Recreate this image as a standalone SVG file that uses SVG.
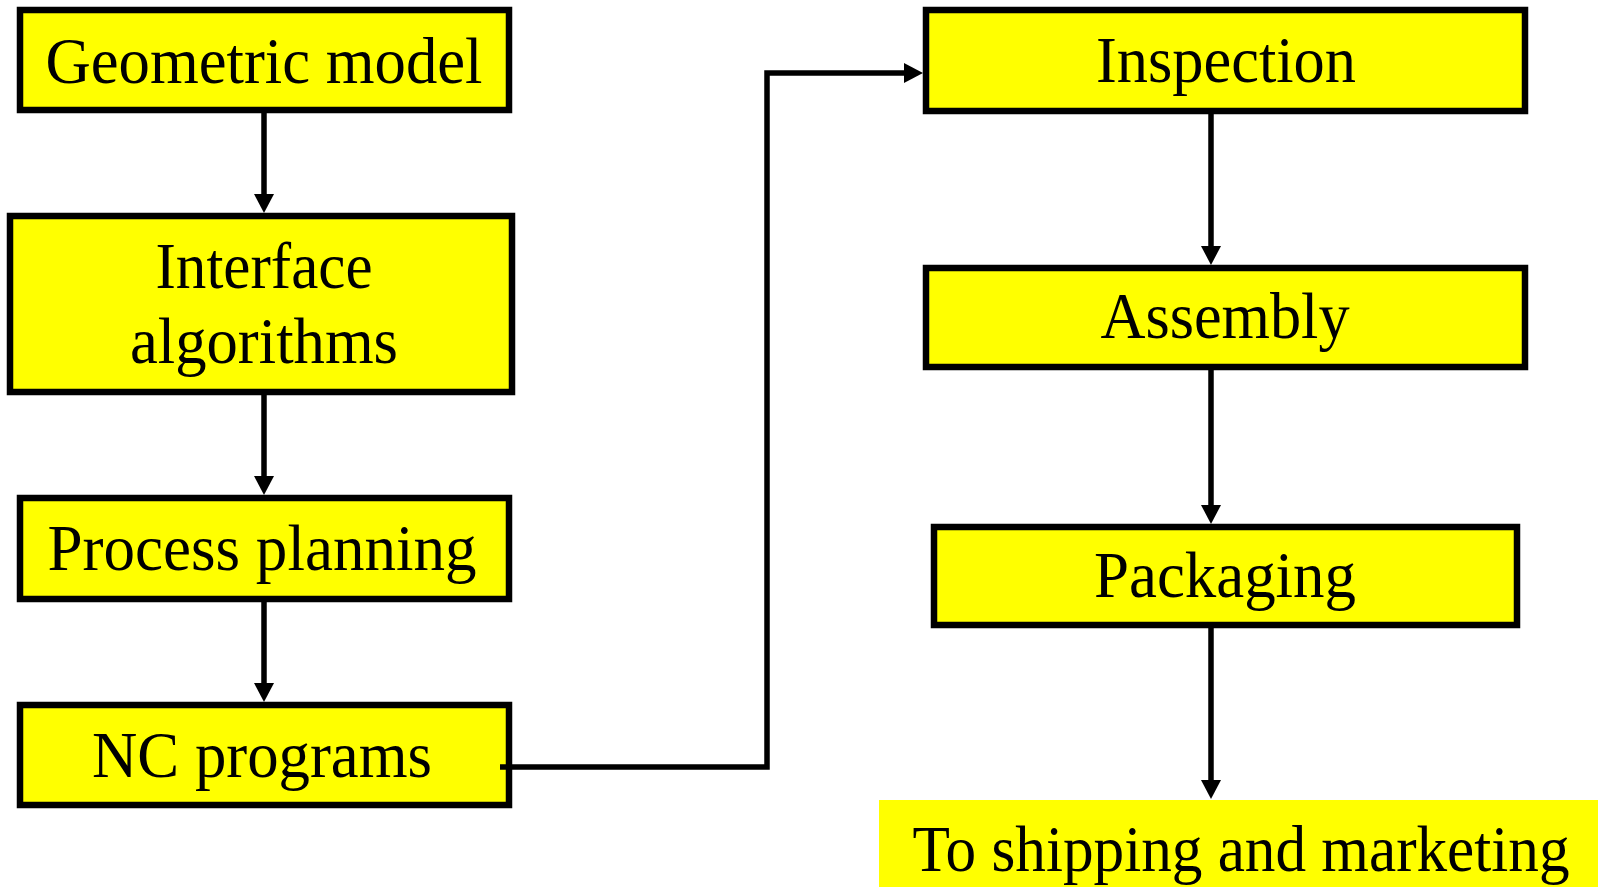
<svg xmlns="http://www.w3.org/2000/svg" width="1598" height="887" viewBox="0 0 1598 887">
<style>
.box{fill:#FFFF00;stroke:#000;stroke-width:6.5}
.plain{fill:#FFFF00;stroke:none}
.lbl{font-family:"Liberation Serif","Times New Roman",serif;font-size:66px;fill:#000;text-anchor:middle}
.conn{fill:none;stroke:#000;stroke-width:5.5;stroke-linejoin:miter}
</style>
<defs>
<marker id="arr" markerUnits="userSpaceOnUse" markerWidth="19" markerHeight="20" viewBox="0 0 19 20" refX="10" refY="10" orient="auto">
<path d="M0,0 L19,10 L0,20 Z" fill="#000"/>
</marker>
</defs>
<rect width="1598" height="887" fill="#fff"/>
<g id="geometric-model"><rect class="box" x="20" y="10" width="489" height="100"/><text class="lbl" x="264" y="83" textLength="437" lengthAdjust="spacingAndGlyphs">Geometric model</text></g>
<g id="interface-algorithms"><rect class="box" x="10" y="216" width="502" height="176"/><text class="lbl" x="264" y="288" textLength="217" lengthAdjust="spacingAndGlyphs">Interface</text><text class="lbl" x="264" y="363" textLength="268" lengthAdjust="spacingAndGlyphs">algorithms</text></g>
<g id="process-planning"><rect class="box" x="20" y="498" width="489" height="101"/><text class="lbl" x="262" y="570" textLength="429" lengthAdjust="spacingAndGlyphs">Process planning</text></g>
<g id="nc-programs"><rect class="box" x="20" y="705" width="489" height="100"/><text class="lbl" x="262" y="777" textLength="340" lengthAdjust="spacingAndGlyphs">NC programs</text></g>
<g id="inspection"><rect class="box" x="926" y="10" width="599" height="101"/><text class="lbl" x="1226" y="82" textLength="260" lengthAdjust="spacingAndGlyphs">Inspection</text></g>
<g id="assembly"><rect class="box" x="926" y="268" width="599" height="99"/><text class="lbl" x="1225" y="338" textLength="249" lengthAdjust="spacingAndGlyphs">Assembly</text></g>
<g id="packaging"><rect class="box" x="934" y="527" width="583" height="98"/><text class="lbl" x="1225" y="597" textLength="262" lengthAdjust="spacingAndGlyphs">Packaging</text></g>
<g id="shipping"><rect class="plain" x="879" y="800" width="719" height="87"/><text class="lbl" x="1241" y="871" font-size="65" textLength="657" lengthAdjust="spacingAndGlyphs">To shipping and marketing</text></g>
<g id="connectors">
<path class="conn" d="M264,113 V204" marker-end="url(#arr)"/>
<path class="conn" d="M264,395 V486" marker-end="url(#arr)"/>
<path class="conn" d="M264,602 V693" marker-end="url(#arr)"/>
<path class="conn" d="M500,767 H767 V73 H914" marker-end="url(#arr)"/>
<path class="conn" d="M1211,111 V256" marker-end="url(#arr)"/>
<path class="conn" d="M1211,370 V515" marker-end="url(#arr)"/>
<path class="conn" d="M1211,628 V790" marker-end="url(#arr)"/>
</g>
</svg>
